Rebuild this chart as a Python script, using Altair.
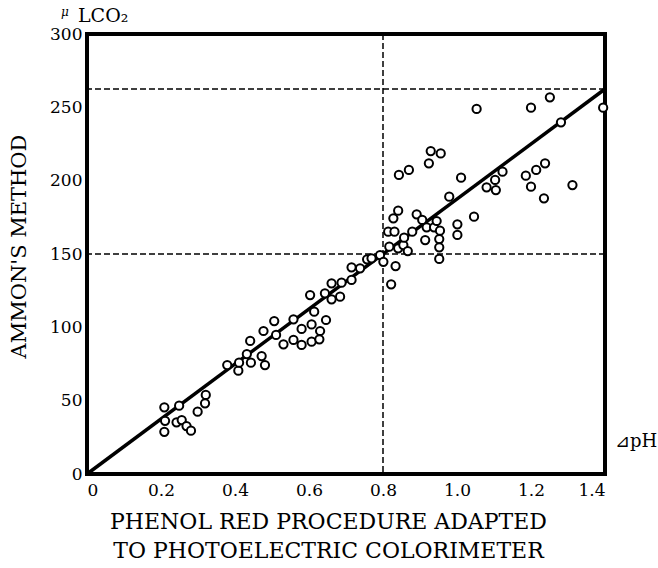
import altair as alt
import pandas as pd

# Data
x_vals = [0.209, 0.249, 0.211, 0.209, 0.242, 0.256, 0.269, 0.281, 0.299, 0.319, 0.321,
          0.379, 0.409, 0.411, 0.432, 0.443, 0.441, 0.472, 0.481, 0.477, 0.506, 0.511,
          0.531, 0.558, 0.558, 0.580, 0.580, 0.607, 0.607, 0.628, 0.630, 0.614, 0.646,
          0.603, 0.643, 0.661, 0.661, 0.684, 0.688, 0.715, 0.715, 0.738, 0.757,
          0.769, 0.792, 0.801, 0.817, 0.814, 0.831, 0.834, 0.822, 0.841, 0.855, 0.867,
          0.857, 0.879, 0.828, 0.841, 0.891, 0.906, 0.914, 0.918, 0.938, 0.945, 0.954,
          0.952, 0.952, 0.952, 0.843, 0.870, 0.924, 0.929, 0.956, 0.979, 1.001, 1.001,
          1.011, 1.046, 1.053, 1.080, 1.103, 1.105, 1.123, 1.186, 1.200, 1.214, 1.238,
          1.235, 1.200, 1.251, 1.281, 1.312, 1.395]
y_vals = [45.5, 46.6, 36.3, 28.8, 35.2, 36.8, 32.7, 29.5, 42.5, 48.2, 53.9,
          74.3, 70.4, 75.9, 81.8, 75.9, 90.7, 80.4, 74.3, 97.5, 104.3, 94.8,
          88.4, 105.5, 91.4, 98.9, 88.0, 102.0, 90.2, 91.8, 97.5, 110.7, 105.0,
          122.0, 123.2, 130.0, 119.1, 120.9, 130.4, 132.3, 140.9, 140.2, 146.4,
          147.1, 149.3, 144.7, 155.0, 165.2, 165.2, 141.8, 129.3, 153.9, 156.1, 152.0,
          161.1, 165.2, 174.3, 179.5, 177.1, 173.2, 159.5, 168.2, 168.2, 172.5, 165.9,
          160.2, 154.6, 146.6, 203.9, 207.3, 211.8, 220.2, 218.6, 189.1, 170.2, 163.0,
          202.0, 175.4, 248.9, 195.5, 200.5, 193.6, 206.1, 203.4, 195.9, 207.3, 211.8,
          188.0, 249.8, 256.8, 239.8, 197.0, 249.8]

fit_x = [0.0, 1.4]
fit_y = [0.0, 262.5]
h_ref = [150, 262.5]
v_ref = [0.8]

FONT = "DejaVu Serif"

pts = pd.DataFrame({"x": x_vals, "y": y_vals})
fit = pd.DataFrame({"x": fit_x, "y": fit_y})
hdf = pd.DataFrame({"y": h_ref})
vdf = pd.DataFrame({"x": v_ref})

xscale = alt.Scale(domain=[0, 1.4], nice=False, zero=True)
yscale = alt.Scale(domain=[0, 300], nice=False, zero=True)

xaxis = alt.Axis(values=[0, 0.2, 0.4, 0.6, 0.8, 1.0, 1.2, 1.4],
                 labelExpr="datum.value == 0 ? '0' : format(datum.value, '.1f')",
                 title=["PHENOL RED PROCEDURE ADAPTED", "TO PHOTOELECTRIC COLORIMETER"],
                 grid=False, ticks=False, domain=False, labelPadding=8,
                 labelFontSize=17, labelFont=FONT, labelColor="black",
                 titleFont=FONT, titleFontSize=22, titleFontWeight="normal",
                 titleColor="black", titlePadding=13, titleLineHeight=29,
                 titleX=241, titleAnchor="middle")
yaxis = alt.Axis(values=[0, 50, 100, 150, 200, 250, 300],
                 title="AMMON'S METHOD", grid=False, ticks=False, domain=False,
                 labelPadding=5, labelFontSize=17, labelFont=FONT, labelColor="black",
                 titleFont=FONT, titleFontSize=21, titleFontWeight="normal",
                 titleColor="black", titlePadding=20, titleY=212)

base_pts = alt.Chart(pts).mark_point(
    shape="circle", filled=True, fill="white", stroke="black", strokeWidth=2,
    size=68, opacity=1
).encode(x=alt.X("x:Q", scale=xscale, axis=xaxis),
         y=alt.Y("y:Q", scale=yscale, axis=yaxis))

line = alt.Chart(fit).mark_line(color="black", strokeWidth=3.5).encode(
    x=alt.X("x:Q", scale=xscale), y=alt.Y("y:Q", scale=yscale))

hrules = alt.Chart(hdf).mark_rule(color="black", strokeWidth=1.5, strokeDash=[6, 3]).encode(
    y=alt.Y("y:Q", scale=yscale))
vrules = alt.Chart(vdf).mark_rule(color="black", strokeWidth=1.5, strokeDash=[6, 3]).encode(
    x=alt.X("x:Q", scale=xscale))

unit_lbl = alt.Chart(pd.DataFrame({"t": ["LCO\u2082"]})).mark_text(
    font=FONT, fontSize=19, align="left", baseline="alphabetic", color="black"
).encode(text="t:N", x=alt.value(-9), y=alt.value(-12))
mu_lbl = alt.Chart(pd.DataFrame({"t": ["\u03bc"]})).mark_text(
    font=FONT, fontSize=12, fontStyle="italic", align="left", baseline="alphabetic", color="black"
).encode(text="t:N", x=alt.value(-26), y=alt.value(-18))
ph_lbl = alt.Chart(pd.DataFrame({"t": ["\u22bfpH"]})).mark_text(
    font=FONT, fontSize=18, align="left", baseline="alphabetic", color="black"
).encode(text="t:N", x=alt.value(528), y=alt.value(413))

chart = alt.layer(hrules, vrules, line, base_pts, unit_lbl, mu_lbl, ph_lbl).properties(
    width=518, height=440,
    padding={"left": 87, "top": 34, "right": 53, "bottom": 94},
    autosize=alt.AutoSizeParams(type="none"),
    background="white",
).configure_view(stroke="black", strokeWidth=4)

chart.save("out.html", embed_options={"renderer": "svg", "actions": False})
